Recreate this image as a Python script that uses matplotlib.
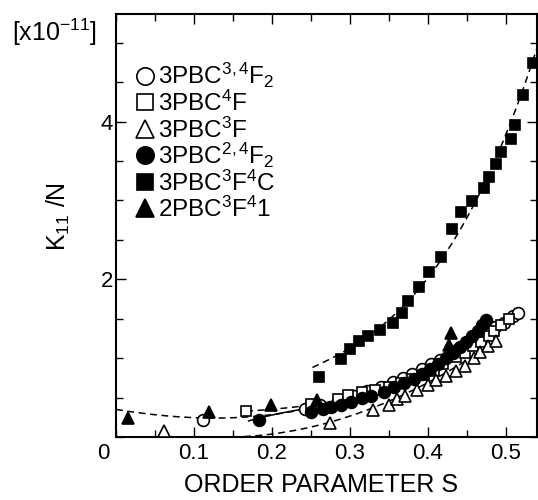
import numpy as np
import matplotlib
matplotlib.use("Agg")
import matplotlib.pyplot as plt
from matplotlib.ticker import MultipleLocator, FixedLocator

plt.rcParams['font.family'] = ['Liberation Sans', 'DejaVu Sans']
plt.rcParams['mathtext.fontset'] = 'custom'
plt.rcParams['mathtext.rm'] = 'Liberation Sans'
plt.rcParams['mathtext.it'] = 'Liberation Sans'

# ---- data (order parameter S, K11 in 1e-11 N) ----
oc_x = [0.112, 0.242, 0.262, 0.285, 0.305, 0.322, 0.340, 0.355, 0.368, 0.380, 0.392,
        0.404, 0.415, 0.427, 0.438, 0.450, 0.462, 0.474, 0.486, 0.497, 0.509, 0.516]
oc_y = [0.21, 0.35, 0.40, 0.46, 0.52, 0.58, 0.64, 0.70, 0.75, 0.80, 0.86,
        0.92, 0.98, 1.04, 1.11, 1.18, 1.25, 1.32, 1.39, 1.45, 1.53, 1.57]

os_x = [0.167, 0.250, 0.285, 0.297, 0.315, 0.332, 0.350, 0.365, 0.380, 0.395, 0.408,
        0.420, 0.436, 0.447, 0.458, 0.468, 0.478, 0.485, 0.494, 0.504]
os_y = [0.33, 0.42, 0.48, 0.53, 0.57, 0.60, 0.64, 0.69, 0.73, 0.78, 0.84,
        0.92, 1.02, 1.06, 1.15, 1.21, 1.28, 1.35, 1.42, 1.50]

ot_x = [0.061, 0.274, 0.330, 0.350, 0.361, 0.371, 0.386, 0.400, 0.411, 0.423, 0.436,
        0.447, 0.459, 0.467, 0.477, 0.487]
ot_y = [0.07, 0.18, 0.34, 0.40, 0.48, 0.52, 0.60, 0.66, 0.72, 0.77, 0.84,
        0.90, 1.00, 1.08, 1.15, 1.22]

fc_x = [0.184, 0.250, 0.265, 0.276, 0.289, 0.302, 0.315, 0.327, 0.344, 0.357, 0.370,
        0.382, 0.393, 0.403, 0.413, 0.423, 0.432, 0.441, 0.449, 0.457, 0.464, 0.470, 0.475]
fc_y = [0.22, 0.32, 0.36, 0.38, 0.41, 0.45, 0.49, 0.52, 0.57, 0.63, 0.68,
        0.74, 0.80, 0.86, 0.93, 1.00, 1.07, 1.14, 1.21, 1.28, 1.35, 1.42, 1.48]

fs_x = [0.261, 0.289, 0.300, 0.312, 0.323, 0.338, 0.355, 0.367, 0.375, 0.388, 0.402,
        0.417, 0.431, 0.443, 0.457, 0.472, 0.479, 0.488, 0.494, 0.506, 0.512, 0.522, 0.535]
fs_y = [0.76, 0.99, 1.12, 1.22, 1.28, 1.36, 1.45, 1.57, 1.72, 1.90, 2.09,
        2.28, 2.64, 2.85, 2.99, 3.16, 3.30, 3.46, 3.62, 3.78, 3.95, 4.34, 4.74]

ft_x = [0.016, 0.119, 0.199, 0.258, 0.427, 0.430]
ft_y = [0.24, 0.32, 0.40, 0.47, 1.17, 1.32]

# fitted guide curves
cA_x = [0.252, 0.30, 0.35, 0.40, 0.45, 0.50, 0.54]
cA_y = [0.89, 1.13, 1.43, 2.06, 2.85, 3.72, 4.98]
cB_x = [0.0, 0.05, 0.107, 0.17, 0.24, 0.30, 0.35, 0.40, 0.45, 0.51]
cB_y = [0.35, 0.29, 0.22, 0.27, 0.36, 0.50, 0.66, 0.90, 1.20, 1.55]
cC_x = [0.12, 0.17, 0.21, 0.248, 0.274, 0.312, 0.351, 0.40, 0.45, 0.49]
cC_y = [0.0, 0.02, 0.05, 0.09, 0.18, 0.34, 0.47, 0.68, 0.95, 1.25]
cD_x = [0.167, 0.20, 0.25, 0.30, 0.35, 0.40, 0.45, 0.50]
cD_y = [0.33, 0.35, 0.40, 0.50, 0.64, 0.84, 1.10, 1.48]
cS_x = [0.17, 0.236, 0.30, 0.36, 0.42, 0.48]
cS_y = [0.20, 0.36, 0.46, 0.64, 0.98, 1.50]

labels = ['3PBC$^{3,4}$F$_2$', '3PBC$^{4}$F', '3PBC$^{3}$F',
          '3PBC$^{2,4}$F$_2$', '3PBC$^{3}$F$^{4}$C', '2PBC$^{3}$F$^{4}$1']
leg_markers = ['o', 's', '^', 'o', 's', '^']
leg_fills = ['white', 'white', 'white', 'black', 'black', 'black']
leg_sizes = [12.5, 11, 13, 12.5, 11, 13]

fig = plt.figure(figsize=(5.38, 5.0), dpi=100)
ax = fig.add_axes([0.2156, 0.126, 0.7826, 0.847])

def smooth(xs, ys, deg):
    p = np.polyfit(xs, ys, deg)
    xx = np.linspace(min(xs), max(xs), 200)
    return xx, np.polyval(p, xx)

dash = dict(color='black', lw=1.1, ls=(0, (4.5, 3)), zorder=1)
for cx, cy, d in [(cA_x, cA_y, 3), (cB_x, cB_y, 4), (cC_x, cC_y, 3), (cD_x, cD_y, 3)]:
    xx, yy = smooth(cx, cy, d)
    ax.plot(xx, yy, **dash)
xx, yy = smooth(cS_x, cS_y, 3)
ax.plot(xx, yy, color='black', lw=1.1, zorder=1)

mk = dict(ls='none', mec='black', mew=1.2)
ax.plot(oc_x, oc_y, marker='o', ms=8.5, mfc='white', zorder=3, **mk)
ax.plot(os_x, os_y, marker='s', ms=7.8, mfc='white', zorder=3, **mk)
ax.plot(ot_x, ot_y, marker='^', ms=8.5, mfc='white', zorder=3, **mk)
ax.plot(fc_x, fc_y, marker='o', ms=8.5, mfc='black', zorder=4, **mk)
ax.plot(fs_x, fs_y, marker='s', ms=7.5, mfc='black', zorder=4, **mk)
ax.plot(ft_x, ft_y, marker='^', ms=8.5, mfc='black', zorder=4, **mk)

# legend drawn by hand (axes fractions)
row_y = [0.853, 0.790, 0.727, 0.665, 0.602, 0.540]
leg_fs = 17.5
for yy_, lab, m, fcol, s in zip(row_y, labels, leg_markers, leg_fills, leg_sizes):
    ax.plot([0.068], [yy_], marker=m, ms=s, mfc=fcol, mec='black', mew=1.2,
            ls='none', transform=ax.transAxes, clip_on=False, zorder=5)
    ax.text(0.099, yy_ - 0.0205, lab, transform=ax.transAxes, ha='left',
            va='baseline', fontsize=leg_fs)

ax.set_xlim(0, 0.54)
ax.set_ylim(0, 5.37)
ax.xaxis.set_major_locator(FixedLocator([0.1, 0.2, 0.3, 0.4, 0.5]))
ax.xaxis.set_minor_locator(MultipleLocator(0.05))
ax.yaxis.set_major_locator(FixedLocator([2, 4]))
ax.yaxis.set_minor_locator(MultipleLocator(0.5))
ax.tick_params(which='both', direction='in', top=True, right=True, width=1.0,
               labelsize=16, pad=2)
ax.tick_params(axis='x', pad=4)
ax.tick_params(which='major', length=7)
ax.tick_params(which='minor', length=5)
for s in ax.spines.values():
    s.set_linewidth(1.5)

ax.text(-0.015, -0.015, '0', transform=ax.transAxes, ha='right', va='top', fontsize=16)
ax.set_xlabel('ORDER PARAMETER S', fontsize=18, labelpad=4)
ax.xaxis.set_label_coords(0.486, -0.085)
ax.set_ylabel('K$_{11}$ /N', fontsize=18)
ax.yaxis.set_label_coords(-0.105, 0.52)
fig.text(0.022, 0.935, r'[x10$^{-11}$]', fontsize=18, ha='left', va='center')

fig.savefig('out.png', dpi=100)
